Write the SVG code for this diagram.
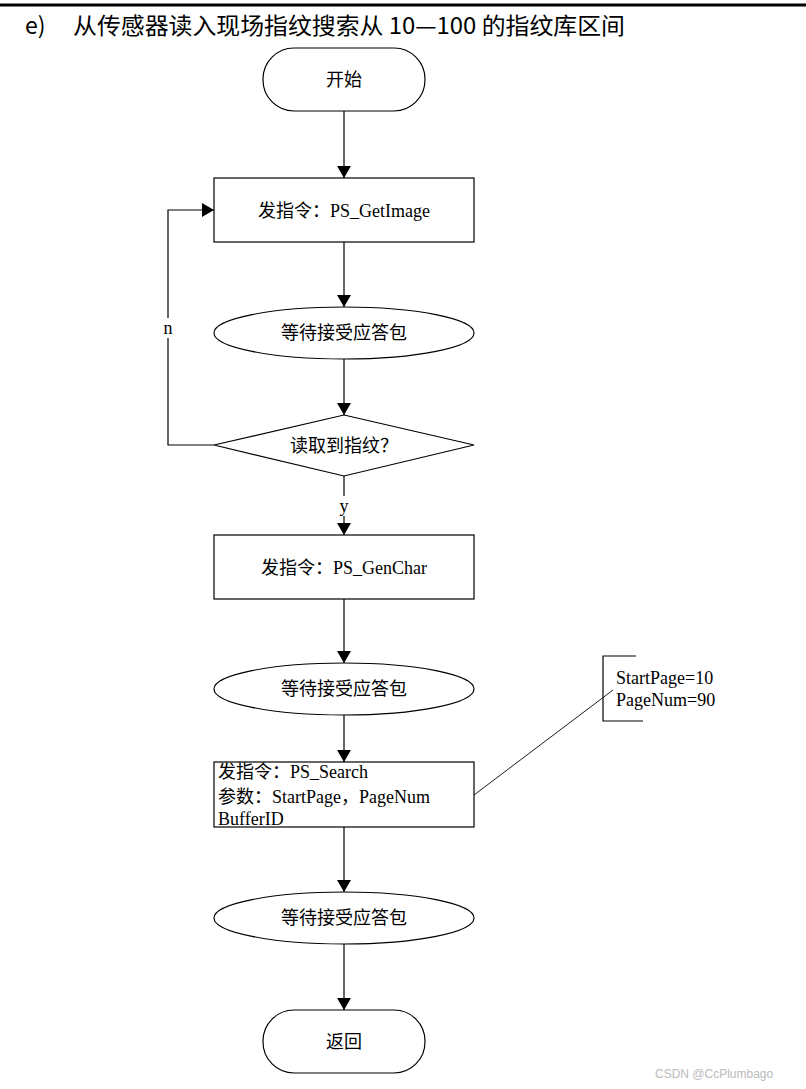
<svg xmlns="http://www.w3.org/2000/svg" width="806" height="1089" viewBox="0 0 806 1089">
<defs>
<marker id="ah" markerWidth="12" markerHeight="14" refX="12" refY="7" orient="auto" markerUnits="userSpaceOnUse">
<path d="M0,0 L12,7 L0,14 Z" fill="#000"/>
</marker>
<style>
.s{fill:#fff;stroke:#000;stroke-width:1.2}
.t{font-family:"Liberation Serif","Noto Sans CJK SC",serif;font-size:18px;fill:#000}
.c{text-anchor:middle}
.ln{fill:none;stroke:#000;stroke-width:1.2}
.h{font-family:"Noto Sans CJK SC","Liberation Sans",sans-serif;font-size:23px;fill:#000}
</style>
</defs>
<rect width="806" height="1089" fill="#fff"/>
<line x1="0" y1="5" x2="806" y2="5" stroke="#000" stroke-width="3"/>
<text class="h" x="25" y="34">e)</text>
<text class="h" x="73" y="34" textLength="552" lengthAdjust="spacingAndGlyphs">从传感器读入现场指纹搜索从 10—100 的指纹库区间</text>

<g id="connectors">
<line class="ln" x1="344" y1="111" x2="344" y2="178" marker-end="url(#ah)"/>
<line class="ln" x1="344" y1="242" x2="344" y2="307" marker-end="url(#ah)"/>
<line class="ln" x1="344" y1="359" x2="344" y2="415" marker-end="url(#ah)"/>
<polyline class="ln" points="214,445 168,445 168,210 214,210" marker-end="url(#ah)"/>
<line class="ln" x1="344" y1="476" x2="344" y2="535" marker-end="url(#ah)"/>
<line class="ln" x1="344" y1="599" x2="344" y2="663" marker-end="url(#ah)"/>
<line class="ln" x1="344" y1="715" x2="344" y2="762" marker-end="url(#ah)"/>
<line class="ln" x1="344" y1="827" x2="344" y2="892" marker-end="url(#ah)"/>
<line class="ln" x1="344" y1="944" x2="344" y2="1010" marker-end="url(#ah)"/>
<line x1="474" y1="795" x2="613" y2="690" stroke="#000" stroke-width="0.9"/>
<rect x="161" y="318" width="14" height="20" fill="#fff"/>
<text class="t c" x="168" y="334">n</text>
<rect x="337" y="496" width="14" height="20" fill="#fff"/>
<text class="t c" x="344" y="512">y</text>
</g>

<g id="start">
<rect class="s" x="263" y="48" width="162" height="63" rx="31" ry="31"/>
<text class="t c" x="344" y="86">开始</text>
</g>
<g id="getimage">
<rect class="s" x="214" y="178" width="260" height="64"/>
<text class="t c" x="344" y="217">发指令：PS_GetImage</text>
</g>
<g id="wait1">
<ellipse class="s" cx="344" cy="333" rx="130" ry="26"/>
<text class="t c" x="344" y="339">等待接受应答包</text>
</g>
<g id="decision">
<polygon class="s" points="344,415 474,445 344,476 214,445"/>
<text class="t c" x="344" y="452">读取到指纹？</text>
</g>
<g id="genchar">
<rect class="s" x="214" y="535" width="260" height="64"/>
<text class="t c" x="344" y="574">发指令：PS_GenChar</text>
</g>
<g id="wait2">
<ellipse class="s" cx="344" cy="689" rx="130" ry="26"/>
<text class="t c" x="344" y="695">等待接受应答包</text>
</g>
<g id="search">
<rect class="s" x="214" y="762" width="260" height="65"/>
<text class="t" x="218" y="778">发指令：PS_Search</text>
<text class="t" x="218" y="803">参数：StartPage，PageNum</text>
<text class="t" x="218" y="825">BufferID</text>
</g>
<g id="wait3">
<ellipse class="s" cx="344" cy="918" rx="130" ry="26"/>
<text class="t c" x="344" y="924">等待接受应答包</text>
</g>
<g id="end">
<rect class="s" x="263" y="1010" width="162" height="63" rx="31" ry="31"/>
<text class="t c" x="344" y="1048">返回</text>
</g>
<g id="note">
<polyline class="ln" points="636,656 603,656 603,721 643,721"/>
<text class="t" x="616" y="684">StartPage=10</text>
<text class="t" x="616" y="706">PageNum=90</text>
</g>
<text x="655" y="1078" style="font-family:'Liberation Sans',sans-serif;font-size:12px;fill:#bbb">CSDN @CcPlumbago</text>
</svg>
